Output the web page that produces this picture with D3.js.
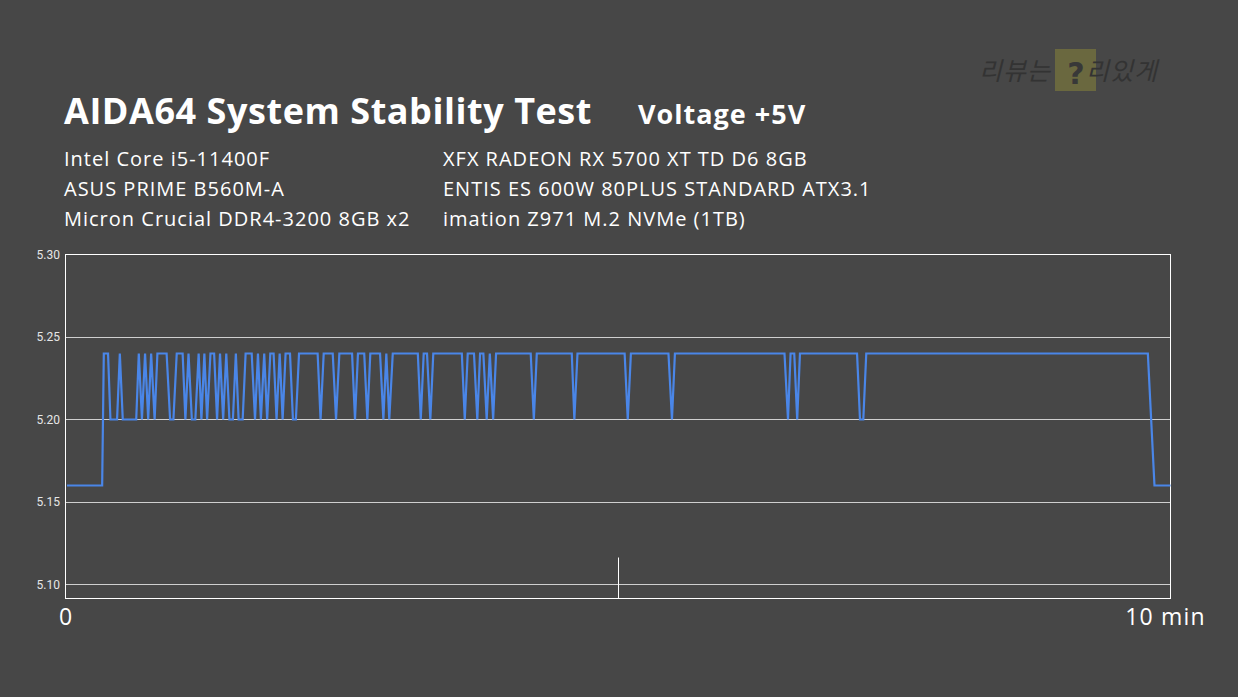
<!DOCTYPE html>
<html>
<head>
<meta charset="utf-8">
<script src="https://cdn.jsdelivr.net/npm/d3@7"></script>
<style>
  html, body { margin: 0; padding: 0; background: #474747; }
  svg { display: block; }
</style>
</head>
<body>
<svg id="chart"></svg>
<script>
(function () {
var width = 1238, height = 697
var svg = d3.select('#chart')
            .attr('width', width)
            .attr('height', height)

var titleText = 'AIDA64 System Stability Test'
var subTitle = 'Voltage +5V'
var specsLeft = ['Intel Core i5-11400F', 'ASUS PRIME B560M-A', 'Micron Crucial DDR4-3200 8GB x2']
var specsRight = ['XFX RADEON RX 5700 XT TD D6 8GB', 'ENTIS ES 600W 80PLUS STANDARD ATX3.1', 'imation Z971 M.2 NVMe (1TB)']
var yTicks = [5.10, 5.15, 5.20, 5.25, 5.30]
var xLabels = [{t: 0, label: '0'}, {t: 600, label: '10 min'}]

// seconds, volts
var timeSec = [0.8, 19.9, 20.8, 23.1, 24.4, 28.0, 29.5, 31.1, 38.4, 39.8,
    41.5, 43.2, 44.9, 46.5, 48.4, 49.9, 54.9, 56.8, 58.6, 60.4,
    63.6, 65.1, 66.8, 68.6, 70.5, 72.3, 73.8, 75.4, 76.9, 78.7,
    80.7, 82.3, 83.9, 85.6, 87.3, 89.0, 90.9, 92.5, 94.0, 96.2,
    97.8, 101.1, 102.9, 104.5, 106.1, 107.9, 109.5, 111.2, 113.0, 114.6,
    116.3, 117.9, 119.5, 121.9, 123.5, 125.1, 126.8, 136.9, 138.5, 140.2,
    145.1, 146.9, 148.7, 155.6, 157.2, 158.8, 162.2, 163.9, 165.5, 170.8,
    172.6, 174.2, 175.8, 177.7, 191.3, 192.9, 194.5, 196.3, 198.1, 199.7,
    215.2, 216.8, 218.4, 221.8, 223.6, 225.1, 226.9, 228.7, 230.4, 232.2,
    233.8, 252.6, 254.3, 255.9, 274.9, 276.3, 278.0, 303.6, 305.3, 307.0,
    327.4, 329.3, 330.9, 390.4, 392.3, 393.7, 395.7, 397.3, 398.8, 429.8,
    431.4, 433.2, 434.8, 587.7, 591.3, 600]
var volts = [5.16, 5.16, 5.24, 5.24, 5.20, 5.20, 5.24, 5.20, 5.20, 5.24,
    5.20, 5.24, 5.20, 5.24, 5.20, 5.24, 5.24, 5.20, 5.20, 5.24,
    5.24, 5.20, 5.24, 5.20, 5.20, 5.24, 5.20, 5.24, 5.20, 5.24,
    5.24, 5.20, 5.24, 5.20, 5.24, 5.20, 5.20, 5.24, 5.20, 5.20,
    5.24, 5.24, 5.20, 5.24, 5.20, 5.24, 5.20, 5.24, 5.24, 5.20,
    5.24, 5.20, 5.24, 5.24, 5.20, 5.20, 5.24, 5.24, 5.20, 5.24,
    5.24, 5.20, 5.24, 5.24, 5.20, 5.24, 5.24, 5.20, 5.24, 5.24,
    5.20, 5.24, 5.20, 5.24, 5.24, 5.20, 5.24, 5.24, 5.20, 5.24,
    5.24, 5.20, 5.24, 5.24, 5.20, 5.24, 5.24, 5.20, 5.24, 5.20,
    5.24, 5.24, 5.20, 5.24, 5.24, 5.20, 5.24, 5.24, 5.20, 5.24,
    5.24, 5.20, 5.24, 5.24, 5.20, 5.24, 5.24, 5.20, 5.24, 5.24,
    5.20, 5.20, 5.24, 5.24, 5.16, 5.16]

var plot = {left: 65.5, right: 1170.5, top: 254.5, bottom: 598.5}

var x = d3.scaleLinear().domain([0, 600]).range([plot.left, plot.right])
var y = d3.scaleLinear().domain([5.0915, 5.30]).range([plot.bottom, plot.top])

var font = '"Open Sans", "Noto Sans", sans-serif'

// title block
svg.append('text')
    .attr('x', 64).attr('y', 124)
    .style('font', 'bold 36px ' + font)
    .style('letter-spacing', '0.55px')
    .attr('fill', '#ffffff')
    .text(titleText)
svg.append('text')
    .attr('x', 638).attr('y', 124)
    .style('font', 'bold 27px ' + font)
    .style('letter-spacing', '1px')
    .attr('fill', '#ffffff')
    .text(subTitle)

specsLeft.forEach(function (s, i) {
    svg.append('text')
        .attr('x', 64).attr('y', 166 + i * 30)
        .style('font', '20px ' + font)
        .style('letter-spacing', '1px')
        .attr('fill', '#ffffff')
        .text(s)
})
specsRight.forEach(function (s, i) {
    svg.append('text')
        .attr('x', 443).attr('y', 166 + i * 30)
        .style('font', '20px ' + font)
        .style('letter-spacing', '1px')
        .attr('fill', '#ffffff')
        .text(s)
})

// watermark
var wm = svg.append('g')
wm.append('rect')
    .attr('x', 1055).attr('y', 49).attr('width', 41).attr('height', 42)
    .attr('fill', '#6a683f')
wm.append('text')
    .attr('x', 979).attr('y', 80)
    .style('font', 'italic 25px "Noto Sans CJK KR", sans-serif')
    .style('letter-spacing', '1px')
    .attr('fill', '#333333')
    .text('리뷰는')
wm.append('text')
    .attr('x', 1076).attr('y', 84)
    .attr('text-anchor', 'middle')
    .style('font', 'bold 30px "DejaVu Sans", sans-serif')
    .attr('fill', '#383838')
    .text('?')
wm.append('text')
    .attr('x', 1086).attr('y', 80)
    .style('font', 'italic 25px "Noto Sans CJK KR", sans-serif')
    .style('letter-spacing', '1px')
    .attr('fill', '#333333')
    .text('리있게')

// grid lines
svg.append('g')
    .selectAll('line')
    .data(yTicks.filter(function (d) { return d < 5.30 }))
    .enter().append('line')
    .attr('x1', plot.left).attr('x2', plot.right)
    .attr('y1', function (d) { return Math.round(y(d)) + 0.5 })
    .attr('y2', function (d) { return Math.round(y(d)) + 0.5 })
    .attr('stroke', '#cfcfcf')
    .attr('stroke-width', 1)

// frame
svg.append('rect')
    .attr('x', plot.left).attr('y', plot.top)
    .attr('width', plot.right - plot.left).attr('height', plot.bottom - plot.top)
    .attr('fill', 'none')
    .attr('stroke', '#ffffff')
    .attr('stroke-width', 1)

// mid tick (5 min)
svg.append('line')
    .attr('x1', Math.round(x(300)) + 0.5).attr('x2', Math.round(x(300)) + 0.5)
    .attr('y1', plot.bottom - 41).attr('y2', plot.bottom)
    .attr('stroke', '#ffffff')
    .attr('stroke-width', 1)

// y axis labels
svg.append('g')
    .selectAll('text')
    .data(yTicks)
    .enter().append('text')
    .attr('x', 60)
    .attr('y', function (d) { return y(d) })
    .attr('dy', '0.36em')
    .attr('text-anchor', 'end')
    .style('font', '12px Roboto, "Liberation Sans", sans-serif')
    .attr('fill', '#e6e6e6')
    .text(function (d) { return d.toFixed(2) })

// x labels
svg.append('g')
    .selectAll('text')
    .data(xLabels)
    .enter().append('text')
    .attr('x', function (d) { return d.t === 0 ? x(d.t) : x(d.t) - 5 })
    .attr('y', 625)
    .attr('text-anchor', 'middle')
    .style('font', '23px ' + font)
    .style('letter-spacing', function (d) { return d.t === 0 ? '0px' : '1.2px' })
    .attr('fill', '#ffffff')
    .text(function (d) { return d.label })

// voltage line
var points = timeSec.map(function (t, i) { return [t, volts[i]] })
var line = d3.line()
    .x(function (d) { return x(d[0]) })
    .y(function (d) { return y(d[1]) })

svg.append('path')
    .datum(points)
    .attr('d', line)
    .attr('fill', 'none')
    .attr('stroke', '#4a86e8')
    .attr('stroke-width', 2.2)
    .attr('stroke-linejoin', 'miter')
})();
</script>
</body>
</html>
